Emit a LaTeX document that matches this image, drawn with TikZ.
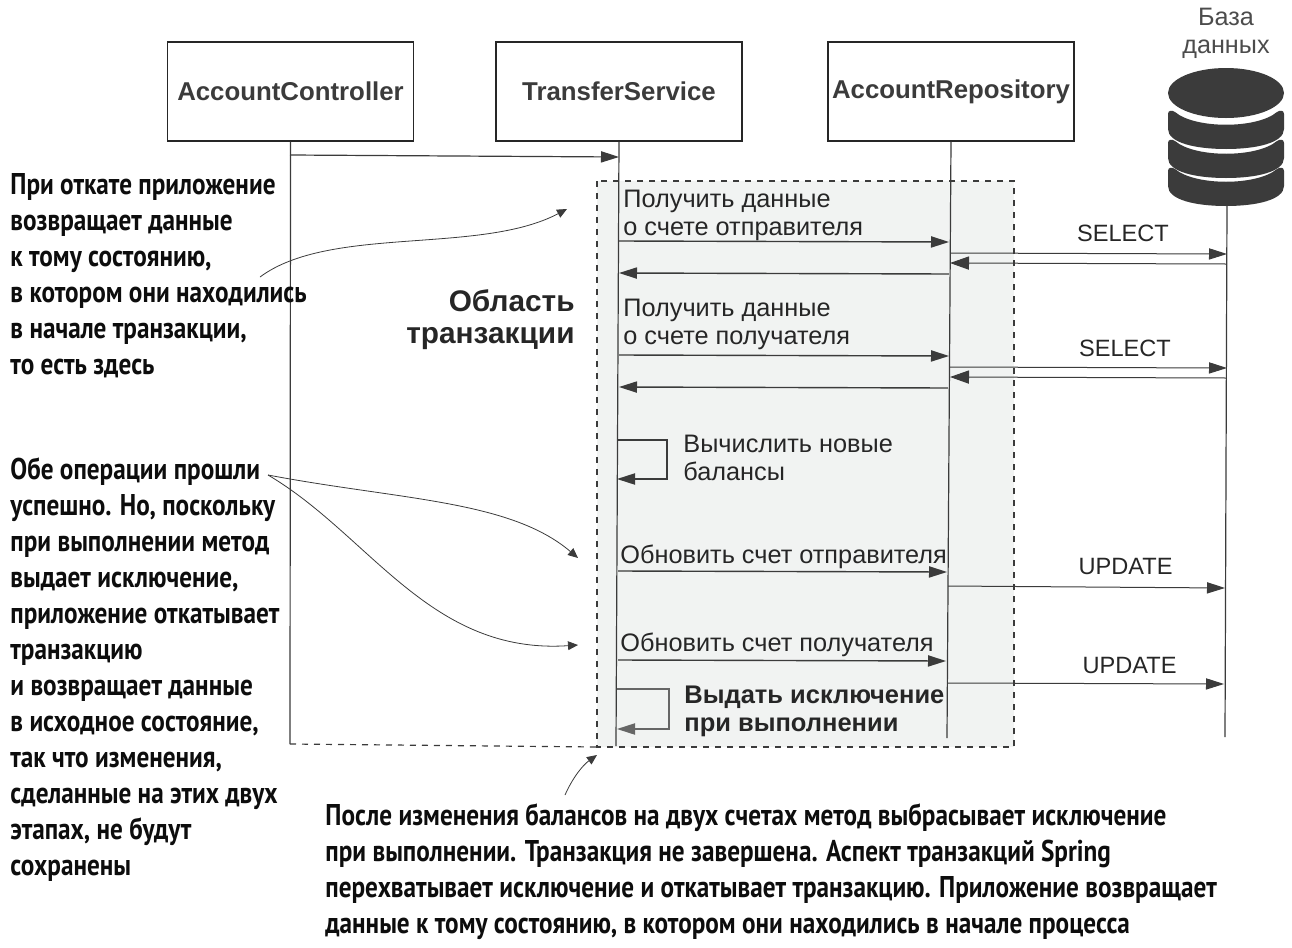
\documentclass[tikz,border=0pt]{standalone}
\usepackage{fontspec}
\setmainfont{Liberation Sans}
\newfontfamily\notefont[FakeStretch=0.84]{PT Sans}
\usetikzlibrary{arrows.meta}
\definecolor{inkdark}{HTML}{3B3B3B}
\definecolor{scopefill}{HTML}{F1F3F2}

\begin{document}
\begin{tikzpicture}[x=0.5pt,y=-0.5pt]
    \tikzstyle{every node}=[inner sep=0pt,text=black!85]
    \tikzstyle{classbox}=[draw=black!85,line width=0.6pt,minimum width=123pt,minimum height=49.5pt,font=\fontsize{12.9}{14}\selectfont\bfseries,text=inkdark]
    \tikzstyle{msglabel}=[anchor=north west,align=left,font=\fontsize{12.65}{14}\selectfont]
    \tikzstyle{sqllabel}=[anchor=base,font=\fontsize{11.8}{14}\selectfont]
    \tikzstyle{boldlabel}=[anchor=north west,align=left,font=\fontsize{12.75}{14}\selectfont\bfseries]
    \tikzstyle{note}=[anchor=north west,align=left,font=\notefont\fontsize{15}{18}\selectfont\bfseries,text=black!95]
    \tikzstyle{lifeline}=[line width=0.6pt,draw=inkdark]
    \tikzstyle{msg}=[line width=0.7pt,draw=inkdark,-{Triangle[length=9pt,width=5.6pt,fill=inkdark]}]
    \tikzstyle{reply}=[line width=0.5pt,draw=inkdark,-{Triangle[length=9.5pt,width=6.6pt,fill=inkdark]}]
    \tikzstyle{remark}=[line width=0.4pt,draw=inkdark,-{Triangle[length=5pt,width=4.4pt,fill=inkdark]}]
    \useasboundingbox (0,0) rectangle (1292,948);

    % transaction scope
    \draw[fill=scopefill,draw=inkdark,line width=0.7pt,dashed] (597,181) rectangle (1014,747);
    \coordinate (scopecorner) at (597,747);

    % participants
    \node[classbox] (controller) at (290.5,91.5) {AccountController};
    \node[classbox] (service) at (619,91.5) {TransferService};
    \node[classbox] (repository) at (951,91.5) {AccountRepository};

    % database
    \fill[inkdark] (1226,93) ellipse (58 and 25);
    \foreach \d in {111,140,168} {
      \fill[inkdark] (1168,\d+3) .. controls (1168,\d-1) and (1172,\d-1) .. (1175,\d+1)
        .. controls (1195,\d+18) and (1257,\d+18) .. (1277,\d+1)
        .. controls (1280,\d-1) and (1284,\d-1) .. (1284,\d+3) -- (1284,\d+18)
        .. controls (1284,\d+32) and (1256,\d+38) .. (1226,\d+38)
        .. controls (1196,\d+38) and (1168,\d+32) .. (1168,\d+18) -- cycle;
    }
    \node[anchor=north,align=center,font=\fontsize{12.6}{14}\selectfont,text=black!70] (dbtitle) at (1226,8) {База\\данных};

    % lifelines
    \coordinate (controllerend) at (290,744);
    \coordinate (serviceend) at (616,746);
    \coordinate (repositoryend) at (947,738);
    \coordinate (dbtop) at (1227,205);
    \coordinate (dbend) at (1225,737);
    \draw[lifeline] (controller.south) -- (controllerend);
    \draw[lifeline] (service.south) -- (serviceend);
    \draw[lifeline] (repository.south) -- (repositoryend);
    \draw[lifeline] (dbtop) -- (dbend);
    \draw[lifeline,dashed] (controllerend) -- (scopecorner);

    % call ends on the lifelines
    \coordinate (c0) at (290,155);
    \coordinate (s0) at (619,157);
    \coordinate (s1) at (619,241);
    \coordinate (r1) at (949,242);
    \coordinate (r2) at (949,274);
    \coordinate (s2) at (619,273);
    \coordinate (r3) at (950,253);
    \coordinate (d3) at (1227,254);
    \coordinate (d4) at (1226,264);
    \coordinate (r4) at (950,263);
    \coordinate (s5) at (619,355);
    \coordinate (r5) at (949,356);
    \coordinate (r6) at (948,388);
    \coordinate (s6) at (619,387);
    \coordinate (r7) at (950,367);
    \coordinate (d7) at (1227,368);
    \coordinate (d8) at (1226,378);
    \coordinate (r8) at (950,377);
    \coordinate (s9) at (618,571);
    \coordinate (r9) at (947,572);
    \coordinate (r10) at (948,586);
    \coordinate (d10) at (1225,588);
    \coordinate (s11) at (618,660);
    \coordinate (r11) at (946,661);
    \coordinate (r12) at (948,683);
    \coordinate (d12) at (1224,684);
    \coordinate (loopa) at (617,440);
    \coordinate (loopb) at (617,479);
    \coordinate (loopc) at (617,689);
    \coordinate (loopd) at (617,729);

    \draw[msg,line width=0.6pt] (c0) -- (s0);
    \draw[msg] (s1) -- (r1);
    \draw[msg] (r2) -- (s2);
    \draw[msg,line width=0.5pt] (r3) -- (d3);
    \draw[reply] (d4) -- (r4);
    \draw[msg] (s5) -- (r5);
    \draw[msg] (r6) -- (s6);
    \draw[msg,line width=0.5pt] (r7) -- (d7);
    \draw[reply] (d8) -- (r8);
    \draw[msg] (loopa) -- ++(50,0) -- ++(0,39) -- (loopb);
    \draw[msg] (s9) -- (r9);
    \draw[msg,line width=0.5pt] (r10) -- (d10);
    \draw[msg] (s11) -- (r11);
    \draw[msg,line width=0.5pt] (r12) -- (d12);
    \draw[msg,draw=black!60,-{Triangle[length=9pt,width=5.6pt,fill=black!60]}] (loopc) -- ++(52,0) -- ++(0,40) -- (loopd);

    % labels
    \node[msglabel] (get1) at (623,190) {Получить данные\\о счете отправителя};
    \node[msglabel] (get2) at (623,299) {Получить данные\\о счете получателя};
    \node[msglabel] (calc) at (683,435) {Вычислить новые\\балансы};
    \node[msglabel,anchor=base west] (upd1) at (620,563) {Обновить счет отправителя};
    \node[msglabel,anchor=base west] (upd2) at (620,651) {Обновить счет получателя};
    \node[sqllabel] (sql1) at (1123,241) {SELECT};
    \node[sqllabel] (sql2) at (1125,356) {SELECT};
    \node[sqllabel] (sql3) at (1125.5,574) {UPDATE};
    \node[sqllabel] (sql4) at (1129.5,673) {UPDATE};
    \node[boldlabel] (thrown) at (684,686) {Выдать исключение\\при выполнении};
    \node[boldlabel,anchor=north east,align=right,font=\fontsize{14.9}{16}\selectfont\bfseries] (scope) at (575,289) {Область\\транзакции};

    % remarks
    \node[note] (note1) at (10,173) {При откате приложение\\возвращает данные\\к тому состоянию,\\в котором они находились\\в начале транзакции,\\то есть здесь};
    \node[note] (note2) at (10,457) {Обе операции прошли\\успешно. Но, поскольку\\при выполнении метод\\выдает исключение,\\приложение откатывает\\транзакцию\\и возвращает данные\\в исходное состояние,\\так что изменения,\\сделанные на этих двух\\этапах, не будут\\сохранены};
    \node[note] (note3) at (325,803) {После изменения балансов на двух счетах метод выбрасывает исключение\\при выполнении. Транзакция не завершена. Аспект транзакций Spring\\перехватывает исключение и откатывает транзакцию. Приложение возвращает\\данные к тому состоянию, в котором они находились в начале процесса};

    \coordinate (from1) at (260,277);
    \coordinate (to1) at (567,209);
    \coordinate (from2) at (268,475);
    \coordinate (to2) at (578,558);
    \coordinate (to3) at (578,645);
    \coordinate (from4) at (565,795);
    \coordinate (to4) at (597,755);
    \draw[remark] (from1) .. controls (330,225) and (480,255) .. (to1);
    \draw[remark] (from2) .. controls (400,500) and (510,500) .. (to2);
    \draw[remark] (from2) .. controls (370,535) and (430,655) .. (to3);
    \draw[remark] (from4) .. controls (573,777) and (583,765) .. (to4);
  \end{tikzpicture}
\end{document}
